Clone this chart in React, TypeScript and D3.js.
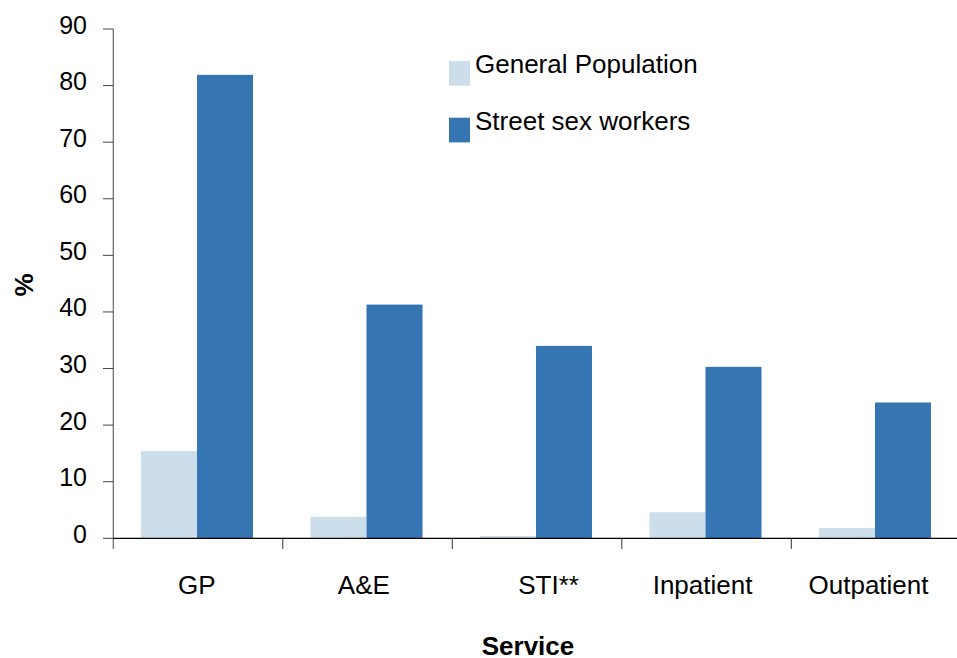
import React from "react";
import * as d3 from "d3";

const categories = ["GP", "A&E", "STI**", "Inpatient", "Outpatient"];
const seriesNames = ["General Population", "Street sex workers"];
const generalPopulation = [15.4, 3.8, 0.4, 4.6, 1.8];
const streetSexWorkers = [81.9, 41.3, 34.0, 30.3, 24.0];
const yTicks = [0, 10, 20, 30, 40, 50, 60, 70, 80, 90];
const colors = ["#ccddeb", "#3575b1"];

// small horizontal nudges of the category labels, as placed in the reference
const labelNudge = [-1.3, -3.7, 11.5, -4, -7.5];

export default function App() {
  const W = 957;
  const H = 658;
  const x0 = 113.3;
  const bandW = 169.5;
  const y = d3.scaleLinear().domain([0, 90]).range([538.3, 29]);
  const x = d3
    .scaleBand<string>()
    .domain(categories)
    .range([x0, x0 + bandW * categories.length])
    .padding(0);
  const groupW = 112;
  const x1 = d3.scaleBand<string>().domain(seriesNames).range([0, groupW]).padding(0);
  const series = [generalPopulation, streetSexWorkers];
  const font = "Arial, 'Liberation Sans', Helvetica, sans-serif";
  const bottom = y(0);

  return (
    <svg
      width={W}
      height={H}
      style={{ position: "absolute", left: 0, top: 0, background: "#fff" }}
      fontFamily={font}
    >
      {/* bars */}
      {categories.map((c, i) => (
        <g key={c} transform={`translate(${(x(c) as number) + 27.7},0)`}>
          {series.map((s, j) => (
            <rect
              key={j}
              x={x1(seriesNames[j])}
              y={y(s[i])}
              width={x1.bandwidth()}
              height={bottom - y(s[i])}
              fill={colors[j]}
            />
          ))}
        </g>
      ))}

      {/* y axis */}
      <line x1={x0} x2={x0} y1={y(90)} y2={549} stroke="#666" strokeWidth={1.2} />
      {yTicks.map((t) => (
        <g key={t}>
          <line x1={103} x2={x0} y1={y(t)} y2={y(t)} stroke="#444" strokeWidth={1} />
          <text x={87} y={y(t) + 4.5} fontSize={25} textAnchor="end" fill="#000">
            {t}
          </text>
        </g>
      ))}

      {/* x axis */}
      <line x1={x0} x2={W} y1={bottom} y2={bottom} stroke="#000" strokeWidth={1.3} />
      {categories.slice(1).map((c) => (
        <line
          key={c}
          x1={x(c) as number}
          x2={x(c) as number}
          y1={bottom}
          y2={549}
          stroke="#333"
          strokeWidth={1}
        />
      ))}
      {categories.map((c, i) => (
        <text
          key={c}
          x={(x(c) as number) + x.bandwidth() / 2 + labelNudge[i]}
          y={594}
          fontSize={26}
          textAnchor="middle"
          fill="#000"
        >
          {c}
        </text>
      ))}

      {/* axis titles */}
      <text x={528} y={655} fontSize={26} fontWeight="bold" textAnchor="middle">
        Service
      </text>
      <text
        transform={`translate(33,285) rotate(-90)`}
        fontSize={26}
        fontWeight="bold"
        textAnchor="middle"
      >
        %
      </text>

      {/* legend */}
      {seriesNames.map((n, j) => (
        <g key={n} transform={`translate(449,${61 + j * 56.7})`}>
          <rect x={0} y={0} width={21} height={24.7} fill={colors[j]} />
          <text x={26} y={12} fontSize={26} fill="#000">
            {n}
          </text>
        </g>
      ))}
    </svg>
  );
}
